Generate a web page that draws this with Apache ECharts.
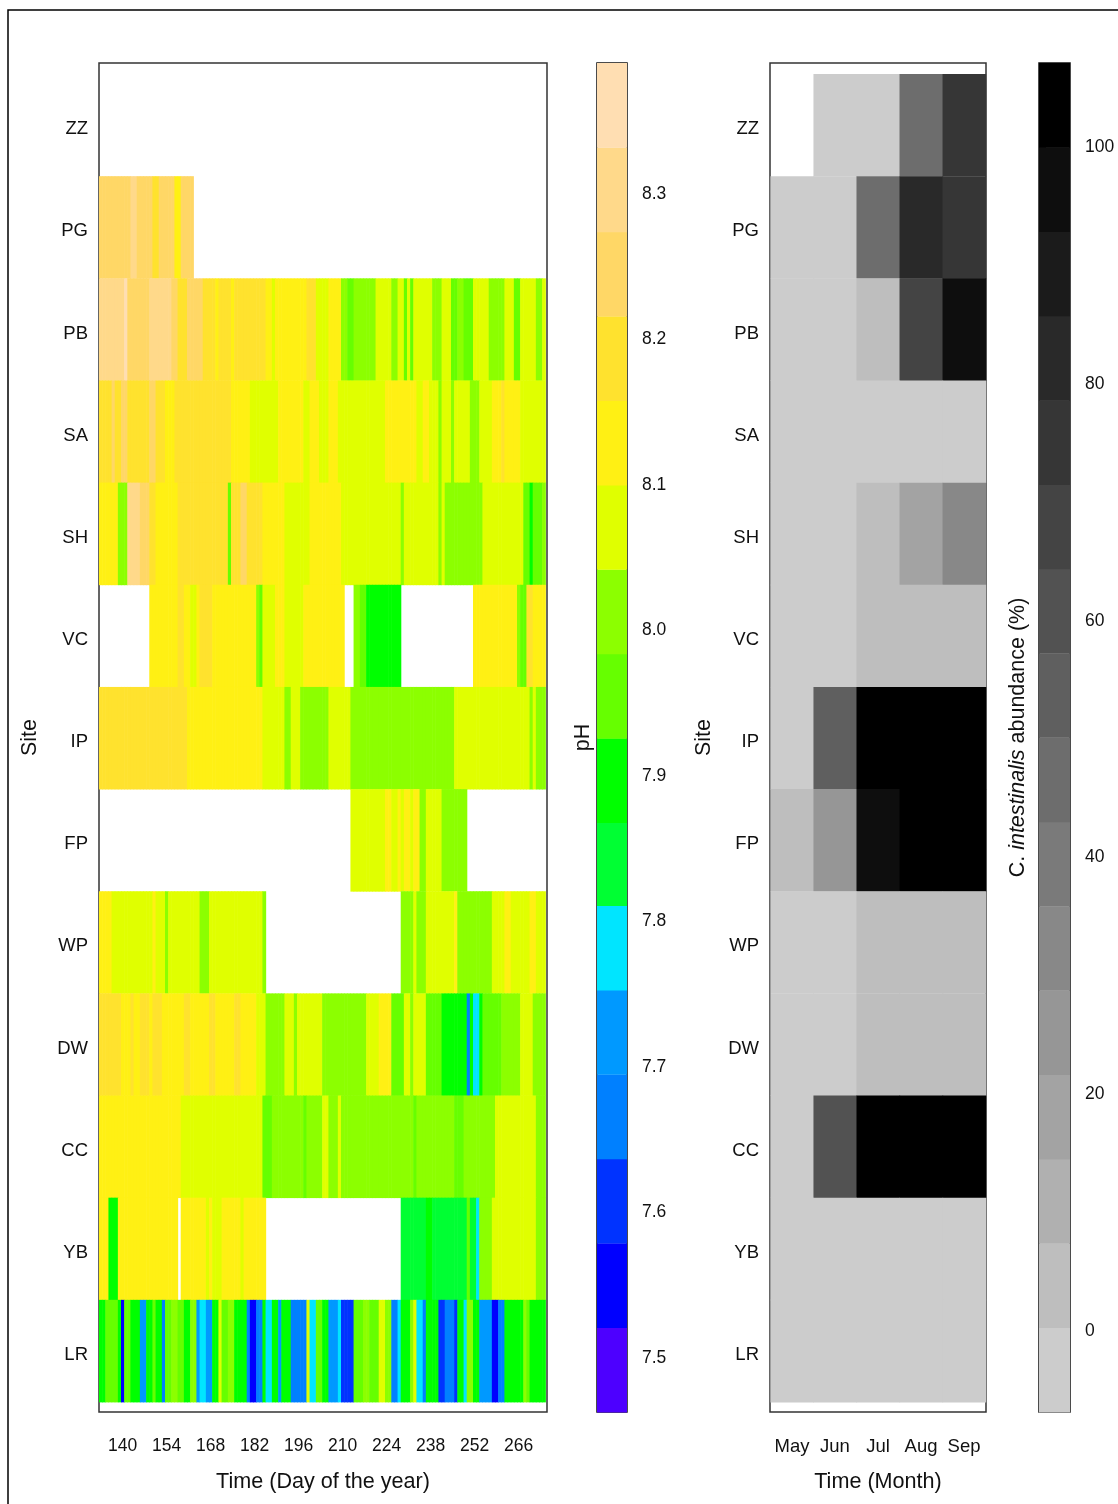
<!DOCTYPE html>
<html><head><meta charset="utf-8">
<script src="https://cdn.jsdelivr.net/npm/echarts@6/dist/echarts.min.js"></script>
<style>html,body{margin:0;padding:0;background:#fff;} #c{width:1118px;height:1504px;}</style>
</head><body><div id="c"></div>
<script>
// ---------- categories & ticks ----------
const sites = ['ZZ','PG','PB','SA','SH','VC','IP','FP','WP','DW','CC','YB','LR']; // top to bottom
const dayTicks = [140,154,168,182,196,210,224,238,252,266];
const months = ['May','Jun','Jul','Aug','Sep'];
const monthIdx = [1,2,3,4,5];
const phTicks = [7.5,7.6,7.7,7.8,7.9,8.0,8.1,8.2,8.3];
const abundTicks = [0,20,40,60,80,100];

// ---------- colour scales (level breaks) ----------
const phBreaks = [7.463,7.521,7.579,7.637,7.695,7.753,7.811,7.868,7.926,7.984,8.042,8.100,8.158,8.216,8.274,8.332,8.390];
const phColors = ['#4D00FF','#0000FF','#0033FF','#0080FF','#0099FF','#00E5FF','#00FF33','#00FF00',
                  '#66FF00','#8CFF00','#E0FF00','#FFF014','#FFE22E','#FFD766','#FFD98A','#FFDEB2'];
const abBreaks = [-6.84,0.28,7.40,14.53,21.65,28.77,35.89,43.01,50.14,57.26,64.38,71.50,78.62,85.75,92.87,99.99,107.11];
const greyColors = ['#CCCCCC','#BEBEBE','#B0B0B0','#A3A3A3','#969696','#888888','#7A7A7A','#6D6D6D',
                    '#5F5F5F','#525252','#444444','#363636','#292929','#1B1B1B','#0E0E0E','#000000'];

// ---------- pH by site: runs of [firstDay, lastDay, pH] (days without data omitted) ----------
const phZZ = [];
const phPG = [[133,142,8.25],[143,144,8.30],[145,149,8.25],[150,151,8.19],[152,156,8.25],[157,158,8.13],[159,162,8.25]];
const phPB = [[133,140,8.30],[141,141,8.36],[142,148,8.25],[149,155,8.30],[156,157,8.25],[158,160,8.19],[161,165,8.25],[166,169,8.19],[170,170,8.13],[171,174,8.19],[175,175,8.13],[176,185,8.19],[186,187,8.13],[188,188,8.07],[189,198,8.13],[199,201,8.19],[202,205,8.07],[206,209,8.13],[210,211,8.01],[212,213,7.96],[214,220,8.01],[221,225,8.07],[226,227,8.01],[228,229,8.07],[230,230,7.96],[231,231,8.07],[232,232,7.96],[233,238,8.07],[239,241,8.01],[242,244,8.07],[245,246,7.96],[247,248,8.01],[249,251,7.96],[252,256,8.07],[257,261,8.01],[262,264,8.07],[265,266,7.96],[267,271,8.07],[272,273,8.01],[274,274,8.07]];
const phSA = [[133,136,8.19],[137,137,8.25],[138,139,8.19],[140,141,8.25],[142,148,8.19],[149,150,8.25],[151,153,8.19],[154,156,8.13],[157,174,8.19],[175,180,8.13],[181,189,8.07],[190,197,8.13],[198,199,8.07],[200,202,8.13],[203,205,8.07],[206,208,8.13],[209,223,8.07],[224,233,8.13],[234,235,8.07],[236,237,8.13],[238,240,8.07],[241,241,8.01],[242,244,8.07],[245,245,8.01],[246,250,8.07],[251,253,8.01],[254,257,8.07],[258,260,8.13],[261,261,8.19],[262,266,8.13],[267,274,8.07]];
const phSH = [[133,138,8.13],[139,141,8.01],[142,145,8.30],[146,148,8.25],[149,150,8.19],[151,157,8.13],[158,173,8.19],[174,174,7.96],[175,177,8.19],[178,179,8.25],[180,184,8.19],[185,191,8.13],[192,199,8.07],[200,209,8.13],[210,228,8.07],[229,229,8.01],[230,240,8.07],[241,241,8.01],[242,242,8.07],[243,254,8.01],[255,267,8.07],[268,269,7.96],[270,270,7.90],[271,273,7.96],[274,274,8.01]];
const phVC = [[149,157,8.13],[158,159,8.19],[160,161,8.13],[162,163,8.07],[164,164,8.13],[165,168,8.19],[169,182,8.13],[183,183,8.01],[184,184,7.96],[185,188,8.07],[189,191,8.13],[192,197,8.07],[198,210,8.13],[214,215,8.01],[216,217,7.96],[218,228,7.90],[252,265,8.13],[266,266,8.01],[267,268,7.96],[269,270,8.19],[271,274,8.13]];
const phIP = [[133,160,8.19],[161,184,8.13],[185,191,8.07],[192,193,8.01],[194,196,8.07],[197,205,8.01],[206,212,8.07],[213,245,8.01],[246,269,8.07],[270,270,8.01],[271,271,8.07],[272,274,8.01]];
const phFP = [[213,223,8.07],[224,225,8.13],[226,227,8.07],[228,228,8.13],[229,229,8.07],[230,231,8.13],[232,232,8.07],[233,234,8.13],[235,236,8.01],[237,241,8.07],[242,249,8.01]];
const phWP = [[133,136,8.13],[137,149,8.07],[150,150,8.13],[151,153,8.07],[154,154,8.01],[155,164,8.07],[165,167,8.01],[168,184,8.07],[185,185,8.01],[229,232,8.01],[233,233,8.07],[234,236,8.01],[237,245,8.07],[246,246,8.13],[247,257,8.01],[258,261,8.07],[262,263,8.13],[264,269,8.07],[270,271,8.13],[272,274,8.07]];
const phDW = [[133,139,8.19],[140,142,8.13],[143,143,8.19],[144,145,8.13],[146,148,8.19],[149,149,8.13],[150,152,8.19],[153,159,8.13],[160,161,8.19],[162,167,8.13],[168,169,8.19],[170,175,8.13],[176,177,8.19],[178,182,8.13],[183,185,8.07],[186,191,8.01],[192,194,8.07],[195,195,8.01],[196,203,8.07],[204,217,8.01],[218,221,8.07],[222,225,8.13],[226,229,7.96],[230,231,8.07],[232,232,8.01],[233,236,8.07],[237,241,7.96],[242,249,7.90],[250,250,7.67],[251,251,7.90],[252,253,7.78],[254,254,7.90],[255,260,7.96],[261,266,8.01],[267,270,8.07],[271,274,8.01]];
const phCC = [[133,158,8.13],[159,184,8.07],[185,187,7.96],[188,197,8.01],[198,198,7.96],[199,203,8.01],[204,205,8.07],[206,208,8.01],[209,209,8.07],[210,232,8.01],[233,233,7.96],[234,245,8.01],[246,248,7.96],[249,258,8.01],[259,271,8.07],[272,274,8.01]];
const phYB = [[133,135,8.13],[136,138,7.90],[139,157,8.13],[159,166,8.13],[167,167,8.07],[168,168,8.13],[169,171,8.07],[172,177,8.13],[178,178,8.07],[179,185,8.13],[229,236,7.84],[237,238,7.90],[239,249,7.84],[250,250,7.96],[251,252,7.84],[253,253,7.78],[254,257,8.01],[258,271,8.07],[272,274,8.01]];
const phLR = [[133,134,7.90],[135,138,7.96],[139,139,7.90],[140,140,7.55],[141,142,7.96],[143,145,7.90],[146,147,7.72],[148,149,7.90],[150,150,7.96],[151,152,7.90],[153,153,7.67],[154,155,7.96],[156,157,8.01],[158,159,7.96],[160,161,7.90],[162,163,8.01],[164,164,7.72],[165,166,7.78],[167,168,7.72],[169,170,7.90],[171,171,8.07],[172,173,7.96],[174,175,8.01],[176,179,7.90],[180,180,7.67],[181,182,7.55],[183,184,7.67],[185,185,7.90],[186,187,7.78],[188,189,7.90],[190,190,7.72],[191,193,7.90],[194,198,7.67],[199,199,8.07],[200,201,7.78],[202,203,7.96],[204,205,7.90],[206,208,7.72],[209,209,7.78],[210,213,7.61],[214,216,7.96],[217,218,8.01],[219,221,7.96],[222,223,8.07],[224,225,8.01],[226,227,7.67],[228,228,7.78],[229,231,7.90],[232,232,8.01],[233,233,8.07],[234,235,7.78],[236,236,7.67],[237,240,7.90],[241,242,7.61],[243,245,7.67],[246,246,7.61],[247,248,7.90],[249,249,7.78],[250,251,8.01],[252,253,7.90],[254,257,7.72],[258,259,7.55],[260,261,7.67],[262,267,7.90],[268,268,8.01],[269,269,7.96],[270,274,7.90]];

// ---------- C. intestinalis abundance (%) by site, May..Sep ----------
const abZZ = [null,0,0,47,75];
const abPG = [0,0,47,82,75];
const abPB = [0,0,4,68,96];
const abSA = [0,0,0,0,0];
const abSH = [0,0,4,18,32];
const abVC = [0,0,4,4,4];
const abIP = [0,54,100,100,100];
const abFP = [4,25,96,100,100];
const abWP = [0,0,4,4,4];
const abDW = [0,0,4,4,4];
const abCC = [0,61,100,100,100];
const abYB = [0,0,0,0,0];
const abLR = [0,0,0,0,0];

// ---------- build series data ----------
const phBySite = [phZZ,phPG,phPB,phSA,phSH,phVC,phIP,phFP,phWP,phDW,phCC,phYB,phLR];
const abBySite = [abZZ,abPG,abPB,abSA,abSH,abVC,abIP,abFP,abWP,abDW,abCC,abYB,abLR];
const nS = sites.length;
const phData = [];
phBySite.forEach((runs, i) => {
  const row = nS - 1 - i;
  runs.forEach(([a, b, v]) => { for (let d = a; d <= b; d++) phData.push([d, row, v]); });
});
const abData = [];
abBySite.forEach((vals, i) => {
  const row = nS - 1 - i;
  vals.forEach((v, j) => { if (v !== null) abData.push([monthIdx[j], row, v]); });
});
const phBands = phColors.map((c, k) => [phBreaks[k], phBreaks[k + 1], k]);
const abBands = greyColors.map((c, k) => [abBreaks[k], abBreaks[k + 1], k]);

function levelColor(v, breaks, cols) {
  for (let k = 0; k < cols.length; k++) if (v >= breaks[k] && v < breaks[k + 1]) return cols[k];
  return v < breaks[0] ? cols[0] : cols[cols.length - 1];
}
function cellRenderer(breaks, cols) {
  return function (params, api) {
    const x = api.value(0), y = api.value(1), v = api.value(2);
    const p0 = api.coord([x - 0.5, y + 0.5]);
    const p1 = api.coord([x + 0.5, y - 0.5]);
    return { type: 'rect', shape: { x: p0[0], y: p0[1], width: p1[0] - p0[0] + 0.6, height: p1[1] - p0[1] + 0.4 },
      style: { fill: levelColor(v, breaks, cols) } };
  };
}
function bandRenderer(cols) {
  return function (params, api) {
    const lo = api.value(0), hi = api.value(1), k = api.value(2);
    const p0 = api.coord([0, hi]);
    const p1 = api.coord([1, lo]);
    return { type: 'rect', shape: { x: p0[0], y: p0[1], width: p1[0] - p0[0], height: p1[1] - p0[1] + 0.4 },
      style: { fill: cols[k] } };
  };
}

const FONT = 'Liberation Sans, Arial, sans-serif';
const TXT = '#111';
const gridStyle = { show: true, borderColor: '#333', borderWidth: 1.5, backgroundColor: 'transparent' };
const siteRows = [0,1,2,3,4,5,6,7,8,9,10,11,12];

function siteAxis(gi, gap) {
  return { gridIndex: gi, type: 'value', min: -0.598, max: 12.608,
    axisLine: { show: false }, axisTick: { show: false }, splitLine: { show: false },
    axisLabel: { customValues: siteRows, formatter: v => sites[nS - 1 - v], margin: 11,
      fontSize: 18.5, color: TXT, fontFamily: FONT, verticalAlign: 'top', lineHeight: 8 },
    name: 'Site', nameLocation: 'middle', nameRotate: 90, nameGap: gap,
    nameTextStyle: { fontSize: 21.5, color: TXT, fontFamily: FONT } };
}

const option = {
  animation: false,
  backgroundColor: '#fff',
  grid: [
    Object.assign({ left: 99, top: 63, width: 448, height: 1349 }, gridStyle),
    Object.assign({ left: 597, top: 63, width: 30, height: 1349 }, gridStyle, { borderColor: '#111' }),
    Object.assign({ left: 770, top: 63, width: 216, height: 1349 }, gridStyle),
    Object.assign({ left: 1039, top: 63, width: 31, height: 1349 }, gridStyle, { borderColor: '#111' })
  ],
  xAxis: [
    { gridIndex: 0, type: 'value', min: 132.5, max: 275.05,
      axisLine: { show: false }, splitLine: { show: false },
      axisTick: { show: true, customValues: dayTicks, length: 10, lineStyle: { color: '#222', width: 1.5 } },
      axisLabel: { customValues: dayTicks, margin: 25, fontSize: 17.5, color: TXT, fontFamily: FONT },
      name: 'Time (Day of the year)', nameLocation: 'middle', nameGap: 59,
      nameTextStyle: { fontSize: 21.6, color: TXT, fontFamily: FONT } },
    { gridIndex: 1, type: 'value', min: 0, max: 1, show: false },
    { gridIndex: 2, type: 'value', min: 0.49, max: 5.51,
      axisLine: { show: false }, splitLine: { show: false },
      axisTick: { show: true, customValues: monthIdx, length: 10, lineStyle: { color: '#222', width: 1.5 } },
      axisLabel: { customValues: monthIdx, formatter: v => months[v - 1], margin: 25, fontSize: 18.5, color: TXT, fontFamily: FONT },
      name: 'Time (Month)', nameLocation: 'middle', nameGap: 59,
      nameTextStyle: { fontSize: 21.6, color: TXT, fontFamily: FONT } },
    { gridIndex: 3, type: 'value', min: 0, max: 1, show: false }
  ],
  yAxis: [
    siteAxis(0, 58),
    { gridIndex: 1, type: 'value', min: 7.463, max: 8.39, position: 'right',
      axisLine: { show: false }, splitLine: { show: false },
      axisTick: { show: true, customValues: phTicks, length: 7, lineStyle: { color: '#222', width: 1.5 } },
      axisLabel: { customValues: phTicks, formatter: v => v.toFixed(1), margin: 15, fontSize: 17.5, color: TXT, fontFamily: FONT } },
    { gridIndex: 1, type: 'value', min: 0, max: 1, position: 'left',
      axisLine: { show: false }, axisTick: { show: false }, axisLabel: { show: false }, splitLine: { show: false },
      name: 'pH', nameLocation: 'middle', nameRotate: 90, nameGap: 3,
      nameTextStyle: { fontSize: 21.5, color: TXT, fontFamily: FONT } },
    siteAxis(2, 55),
    { gridIndex: 3, type: 'value', min: -6.84, max: 107.11, position: 'right',
      axisLine: { show: false }, splitLine: { show: false },
      axisTick: { show: true, customValues: abundTicks, length: 7, lineStyle: { color: '#222', width: 1.5 } },
      axisLabel: { customValues: abundTicks, margin: 15, fontSize: 17.5, color: TXT, fontFamily: FONT } },
    { gridIndex: 3, type: 'value', min: 0, max: 1, position: 'left',
      axisLine: { show: false }, axisTick: { show: false }, axisLabel: { show: false }, splitLine: { show: false },
      name: '{n|C. }{i|intestinalis}{n| abundance (%)}', nameLocation: 'middle', nameRotate: 90, nameGap: 10,
      nameTextStyle: { fontSize: 21.5, color: TXT, fontFamily: FONT,
        rich: { n: { fontSize: 21.5, color: TXT, fontFamily: FONT }, i: { fontSize: 21.5, color: TXT, fontFamily: FONT, fontStyle: 'italic' } } } }
  ],
  series: [
    { type: 'custom', name: 'pH', xAxisIndex: 0, yAxisIndex: 0, data: phData,
      renderItem: cellRenderer(phBreaks, phColors), silent: true },
    { type: 'custom', name: 'pH scale', xAxisIndex: 1, yAxisIndex: 1, data: phBands,
      renderItem: bandRenderer(phColors), silent: true },
    { type: 'custom', name: 'abundance', xAxisIndex: 2, yAxisIndex: 3, data: abData,
      renderItem: cellRenderer(abBreaks, greyColors), silent: true },
    { type: 'custom', name: 'abundance scale', xAxisIndex: 3, yAxisIndex: 4, data: abBands,
      renderItem: bandRenderer(greyColors), silent: true }
  ],
  graphic: [
    { type: 'rect', shape: { x: 8, y: 10, width: 1200, height: 1600 },
      style: { fill: 'none', stroke: '#000', lineWidth: 1.5 }, z: 100, silent: true }
  ]
};
const chart = echarts.init(document.getElementById('c'), null, { renderer: 'canvas' });
chart.setOption(option);
</script></body></html>
